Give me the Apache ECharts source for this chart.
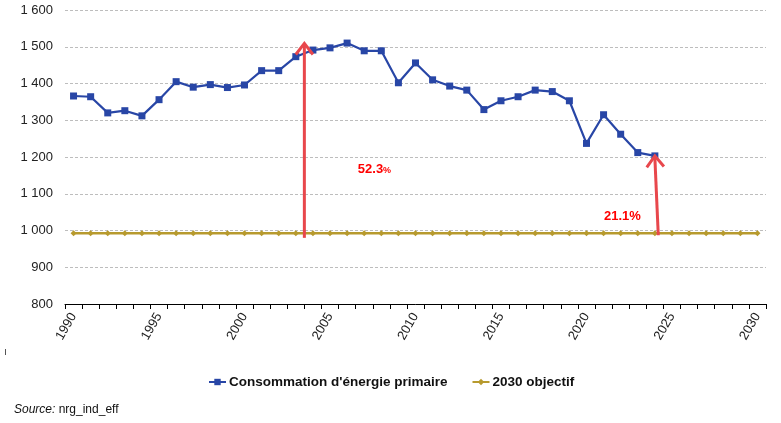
<!DOCTYPE html>
<html>
<head>
<meta charset="utf-8">
<script src="https://cdn.jsdelivr.net/npm/echarts@6/dist/echarts.min.js"></script>
<style>html,body{margin:0;padding:0;background:#fff}#main{width:781px;height:423px}</style>
</head>
<body>
<div id="main"></div>
<script>
var years = [];
for (var y = 1990; y <= 2030; y++) years.push(String(y));
var consumption = [1366, 1364, 1320, 1326, 1312, 1356, 1405, 1390, 1397, 1389, 1396, 1435, 1435, 1473, 1491, 1497, 1510, 1489, 1489, 1402, 1456, 1410, 1393, 1382, 1329, 1353, 1364, 1382, 1378, 1353, 1237, 1315, 1262, 1212, 1203];
var objective = [992.5, 992.5, 992.5, 992.5, 992.5, 992.5, 992.5, 992.5, 992.5, 992.5, 992.5, 992.5, 992.5, 992.5, 992.5, 992.5, 992.5, 992.5, 992.5, 992.5, 992.5, 992.5, 992.5, 992.5, 992.5, 992.5, 992.5, 992.5, 992.5, 992.5, 992.5, 992.5, 992.5, 992.5, 992.5, 992.5, 992.5, 992.5, 992.5, 992.5, 992.5];
// arrows: [x0, y0, x1, y1] in (year, value)
var arrows = [[2003.5, 980, 2003.5, 1509], [2024.2, 987, 2024.0, 1203]];
// annotation labels: [year, value, number, smallPercent]
var notes = [[2007.6, 1167, '52.3', true], [2022.1, 1039, '21.1', false]];

var BLUE = '#2846A6', GOLD = '#B79A2E', RED = '#E8474C';

var chart = echarts.init(document.getElementById('main'), null, {renderer: 'canvas'});
chart.setOption({
  animation: false,
  textStyle: {fontFamily: 'Liberation Sans, Arial, sans-serif'},
  grid: {left: 65, right: 15, top: 10, bottom: 119, containLabel: false},
  xAxis: [{
    type: 'category', data: years, boundaryGap: true,
    axisLine: {lineStyle: {color: '#000', width: 1}},
    axisTick: {show: true, interval: 0, length: 5, lineStyle: {color: '#000'}},
    axisLabel: {interval: 4, rotate: 60, color: '#222', fontSize: 13, margin: 10},
    splitLine: {show: false}
  }, {
    type: 'value', min: 1989.5, max: 2030.5, show: false
  }],
  yAxis: {
    type: 'value', min: 800, max: 1600, interval: 100,
    axisLine: {show: false}, axisTick: {show: false},
    axisLabel: {color: '#222', fontSize: 13, margin: 12,
      formatter: function (v) { return String(v).replace(/\B(?=(\d{3})+(?!\d))/g, ' '); }},
    splitLine: {lineStyle: {color: '#bdbdbd', type: [3, 2], width: 1}}
  },
  legend: {
    data: ['Consommation d\'énergie primaire', '2030 objectif'],
    left: 203, top: 370, itemGap: 24, itemWidth: 17, itemHeight: 8,
    textStyle: {fontSize: 13.5, fontWeight: 'bold', color: '#111', padding: [0, 0, 0, -2]}
  },
  series: [{
    name: '2030 objectif', type: 'line', data: objective,
    symbol: 'diamond', symbolSize: 6, color: GOLD,
    lineStyle: {width: 2.5, color: GOLD}, itemStyle: {color: GOLD}, z: 2
  }, {
    name: 'Consommation d\'énergie primaire', type: 'line', data: consumption,
    symbol: 'rect', symbolSize: 7, color: BLUE,
    lineStyle: {width: 2.2, color: BLUE}, itemStyle: {color: BLUE}, z: 3
  }, {
    type: 'custom', xAxisIndex: 1, yAxisIndex: 0, z: 5, silent: true,
    data: arrows,
    encode: {x: [0, 2], y: [1, 3]},
    renderItem: function (params, api) {
      var p0 = api.coord([api.value(0), api.value(1)]);
      var p1 = api.coord([api.value(2), api.value(3)]);
      var dx = p1[0] - p0[0], dy = p1[1] - p0[1];
      var len = Math.sqrt(dx * dx + dy * dy);
      var ux = dx / len, uy = dy / len;
      var a = 0.66, L = 14;
      var ca = Math.cos(a), sa = Math.sin(a);
      var lx = -(ux * ca - uy * sa) * L, ly = -(ux * sa + uy * ca) * L;
      var rx = -(ux * ca + uy * sa) * L, ry = -(-ux * sa + uy * ca) * L;
      var st = {stroke: RED, lineWidth: 3, fill: null, lineCap: 'butt', lineJoin: 'miter'};
      return {type: 'group', children: [
        {type: 'line', shape: {x1: p0[0], y1: p0[1], x2: p1[0], y2: p1[1] + 2}, style: st},
        {type: 'polyline', shape: {points: [[p1[0] + lx, p1[1] + ly], [p1[0], p1[1]], [p1[0] + rx, p1[1] + ry]]}, style: st}
      ]};
    }
  }, {
    type: 'custom', xAxisIndex: 1, yAxisIndex: 0, z: 6, silent: true,
    data: notes.map(function (n) { return [n[0], n[1]]; }),
    renderItem: function (params, api) {
      var n = notes[params.dataIndex];
      var p = api.coord([api.value(0), api.value(1)]);
      return {type: 'text', x: p[0], y: p[1], style: {
        text: n[3] ? '{a|' + n[2] + '}{b|%}' : '{a|' + n[2] + '%}',
        align: 'center', verticalAlign: 'middle',
        rich: {
          a: {fontSize: 13, fontWeight: 'bold', fill: '#FF0000', fontFamily: 'Liberation Sans, Arial'},
          b: {fontSize: 9, fontWeight: 'bold', fill: '#FF0000', fontFamily: 'Liberation Sans, Arial', padding: [3, 0, 0, 0]}
        }
      }};
    }
  }],
  graphic: [{
    type: 'text', left: 14, top: 404,
    style: {text: '{i|Source:} nrg_ind_eff', fontSize: 12, fill: '#111', fontFamily: 'Liberation Sans, Arial',
      rich: {i: {fontStyle: 'italic', fontSize: 12, fill: '#111', fontFamily: 'Liberation Sans, Arial'}}}
  }, {
    type: 'line', shape: {x1: 5.5, y1: 349, x2: 5.5, y2: 355}, style: {stroke: '#555', lineWidth: 1}
  }]
});
</script>
</body>
</html>
